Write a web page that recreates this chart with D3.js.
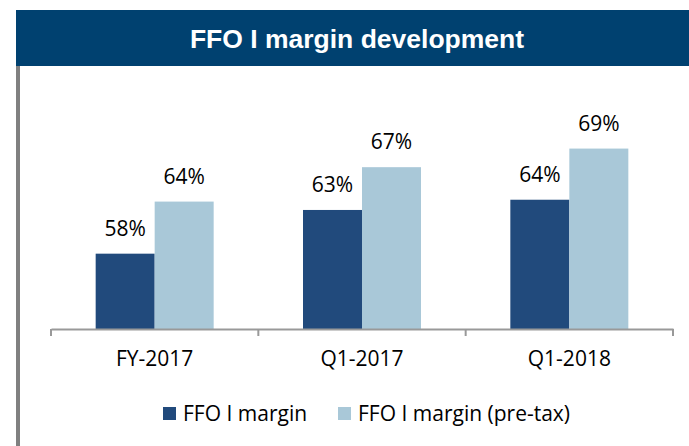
<!DOCTYPE html>
<html>
<head>
<meta charset="utf-8">
<script src="https://cdn.jsdelivr.net/npm/d3@7"></script>
<style>
  body { margin: 0; background: #fff; }
  svg { display: block; }
</style>
</head>
<body>
<div id="chart"></div>
<script>
// data
var categories = ["FY-2017", "Q1-2017", "Q1-2018"];
var seriesNames = ["FFO I margin", "FFO I margin (pre-tax)"];
var ffoMargin = [58.1, 62.8, 63.9];
var ffoMarginPreTax = [63.7, 67.4, 69.4];

var colors = ["#214a7c", "#a9c8d8"];
var font = "Open Sans, Carlito, Calibri, sans-serif";

var svg = d3.select("#chart").append("svg")
  .attr("width", 689)
  .attr("height", 446);

// title bar
svg.append("rect")
  .attr("x", 16).attr("y", 10)
  .attr("width", 673).attr("height", 56)
  .attr("fill", "#004170");
svg.append("text")
  .attr("x", 357).attr("y", 48)
  .attr("text-anchor", "middle")
  .attr("fill", "#fff")
  .attr("font-family", "Liberation Sans, Arial, sans-serif")
  .attr("font-weight", "bold")
  .attr("font-size", "26.5px")
  .text("FFO I margin development");

// left border line
svg.append("rect")
  .attr("x", 16).attr("y", 66)
  .attr("width", 4).attr("height", 380)
  .attr("fill", "#808080");

var axisY = 329;
var x0 = d3.scaleBand().domain(categories).range([51, 673]).padding(0);
var bw = x0.bandwidth();
var x1 = d3.scaleBand().domain(seriesNames).range([bw / 2 - 59, bw / 2 + 59]);
var y = d3.scaleLinear().domain([50, 80]).range([axisY, axisY - 279]);

var rows = categories.map(function (c, i) {
  return { cat: c, values: [ffoMargin[i], ffoMarginPreTax[i]] };
});

var g = svg.selectAll(".cat")
  .data(rows)
  .enter().append("g")
  .attr("class", "cat")
  .attr("transform", function (d) { return "translate(" + x0(d.cat) + ",0)"; });

g.selectAll("rect")
  .data(function (d) { return d.values.map(function (v, j) { return { s: seriesNames[j], v: v, j: j }; }); })
  .enter().append("rect")
  .attr("x", function (d) { return x1(d.s); })
  .attr("y", function (d) { return y(d.v); })
  .attr("width", x1.bandwidth())
  .attr("height", function (d) { return axisY - y(d.v); })
  .attr("fill", function (d) { return colors[d.j]; });

g.selectAll(".lbl")
  .data(function (d) { return d.values.map(function (v, j) { return { s: seriesNames[j], v: v }; }); })
  .enter().append("text")
  .attr("class", "lbl")
  .attr("x", function (d) { return x1(d.s) + x1.bandwidth() / 2; })
  .attr("y", function (d) { return y(d.v) - 18; })
  .attr("text-anchor", "middle")
  .attr("font-family", font)
  .attr("font-size", "21px")
  .attr("fill", "#000")
  .text(function (d) { return Math.round(d.v) + "%"; });

// x axis
var xAxis = svg.append("g")
  .attr("transform", "translate(0," + axisY + ")")
  .call(d3.axisBottom(x0).tickSize(0).tickPadding(22).tickSizeOuter(0));
xAxis.select(".domain").attr("stroke", "#999").attr("stroke-width", 2);
xAxis.selectAll("text")
  .attr("font-family", font)
  .attr("font-size", "21px")
  .attr("fill", "#000");

// category boundary ticks
svg.selectAll(".tk")
  .data(categories.concat(["end"]))
  .enter().append("line")
  .attr("x1", function (d, i) { return i < categories.length ? x0(d) : x0.range()[1]; })
  .attr("x2", function (d, i) { return i < categories.length ? x0(d) : x0.range()[1]; })
  .attr("y1", axisY).attr("y2", axisY + 7)
  .attr("stroke", "#999").attr("stroke-width", 2);

// legend
var legendX = [163, 338];
var lg = svg.selectAll(".leg")
  .data(seriesNames)
  .enter().append("g")
  .attr("transform", function (d, i) { return "translate(" + legendX[i] + ",407)"; });
lg.append("rect")
  .attr("width", 13).attr("height", 13)
  .attr("fill", function (d, i) { return colors[i]; });
lg.append("text")
  .attr("x", 20).attr("y", 14)
  .attr("font-family", font)
  .attr("font-size", "21px")
  .attr("fill", "#000")
  .text(function (d) { return d; });
</script>
</body>
</html>
